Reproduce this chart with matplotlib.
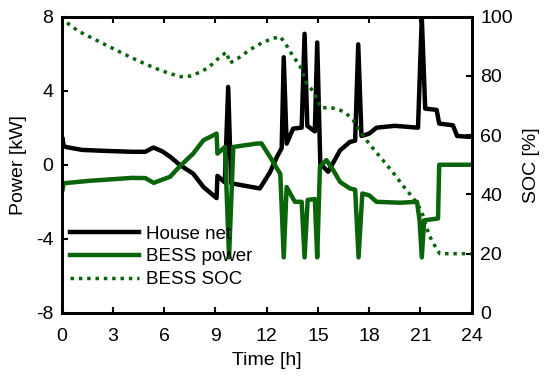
import numpy as np
import matplotlib

matplotlib.use('Agg')

import matplotlib.pyplot as plt

plt.rcParams['font.family'] = ['Liberation Sans', 'DejaVu Sans']
plt.rcParams['axes.unicode_minus'] = False

# house net power [kW]
t_house = [0, 0.05, 0.12, 0.3, 1.2, 2.5, 4.1, 4.9, 5.37, 5.9, 6.4, 6.9, 7.7, 8.3,
           9.07, 9.12, 9.55, 9.75, 9.92, 11.6, 12.2, 12.6, 12.88, 13.0, 13.17, 13.55,
           14.05, 14.22, 14.38, 14.82, 14.96, 15.14, 15.6, 16.3, 16.87, 17.18, 17.36,
           17.55, 18.0, 18.43, 19.5, 20.86, 21.08, 21.28, 21.95, 22.1, 22.9, 23.15, 24]
p_house = [1.0, 1.45, 1.0, 0.95, 0.8, 0.75, 0.7, 0.7, 0.93, 0.72, 0.4, 0.0, -0.48, -1.2,
           -1.8, -0.6, -0.95, 4.2, -1.0, -1.28, -0.4, 0.42, 0.9, 5.8, 1.14, 1.95,
           2.0, 7.07, 2.1, 1.8, 6.6, 0.06, -0.38, 0.78, 1.23, 1.3, 6.5,
           1.55, 1.68, 2.0, 2.1, 2.0, 7.96, 3.03, 2.96, 2.22, 2.13, 1.55, 1.5]

# battery power [kW]
t_bess = [0, 0.05, 0.12, 1.6, 4.1, 4.9, 5.4, 5.9, 6.35, 6.9, 7.7, 8.3, 9.07, 9.12,
          9.56, 9.8, 10.05, 11.4, 11.7, 12.2, 12.8, 13.0, 13.17, 13.65, 14.05, 14.22,
          14.4, 14.82, 14.96, 15.12, 15.5, 15.9, 16.3, 16.87, 17.18, 17.38, 17.6, 18.0,
          18.43, 19.8, 20.8, 20.95, 21.08, 21.22, 22.03, 22.1, 24]
p_bess = [-1.4, -1.4, -1.0, -0.87, -0.71, -0.72, -0.98, -0.8, -0.65, -0.1, 0.6, 1.32, 1.68, 0.6,
          0.96, -5.0, 0.96, 1.14, 1.15, 0.42, -0.5, -5.0, -1.2, -2.0, -2.0, -5.0,
          -1.9, -1.85, -5.0, -0.1, 0.25, -0.3, -0.93, -1.28, -1.35, -5.0, -1.55, -1.65,
          -2.0, -2.05, -2.0, -3.0, -5.0, -3.0, -2.9, 0.0, 0.0]

# battery state of charge [%]
t_soc = [0, 0.4, 1.0, 1.9, 2.8, 3.6, 4.5, 5.5, 6.3, 7.0, 7.5, 8.1, 8.6, 9.2, 9.65, 9.85,
         10.3, 10.83, 11.3, 11.8, 12.3, 12.8, 13.17, 13.5, 13.95, 14.35, 14.73, 14.95,
         15.2, 15.7, 16.3, 16.6, 17.05, 17.45, 18.0, 18.5, 19.0, 19.5, 20.0, 20.6, 21.06,
         21.35, 21.55, 21.85, 22.13, 24]
soc = [100, 97.5, 95.0, 92.4, 89.8, 87.5, 85.0, 82.5, 80.8, 79.7, 79.9, 81.2, 82.8, 86.0, 88.0, 84.3,
       85.8, 88.0, 89.8, 91.3, 92.5, 93.2, 90.2, 87.0, 83.3, 77.3, 74.8, 72.0,
       69.1, 69.4, 68.4, 67.6, 65.2, 61.3, 57.1, 53.6, 50.2, 46.6, 42.8, 38.6, 34.5,
       29.0, 25.8, 22.6, 20.0, 20.0]

green = '#0a640a'

fig = plt.figure(figsize=(5.5, 3.76), dpi=100)
ax = fig.add_axes([0.112, 0.1676, 0.7456, 0.7885])
ax2 = ax.twinx()

l1, = ax.plot(t_house, p_house, color='black', lw=3.2, solid_joinstyle='round')
l2, = ax.plot(t_bess, p_bess, color=green, lw=3.2, solid_joinstyle='round')
l3, = ax2.plot(t_soc, soc, color=green, lw=2.5, linestyle=(0, (1, 1.4)), dash_capstyle='butt')

ax.set_xlim(0, 24)
ax.set_ylim(-8, 8)
ax.set_xticks(np.arange(0, 25, 3))
ax.set_yticks([-8, -4, 0, 4, 8])
ax2.set_ylim(0, 100)
ax2.set_yticks(np.arange(0, 101, 20))

ax.tick_params(axis='x', direction='in', length=4, width=1.5, top=True, labelsize=14, pad=11)
ax.tick_params(axis='y', direction='in', length=4, width=1.5, right=False, labelsize=14, pad=6)
ax2.tick_params(axis='y', direction='in', length=4, width=1.5, labelsize=14, pad=6)
for a in (ax, ax2):
    for s in a.spines.values():
        s.set_linewidth(2)

ax.set_xlabel('Time [h]', fontsize=14)
ax.set_ylabel('Power [kW]', fontsize=14)
ax2.set_ylabel('SOC [%]', fontsize=14)
ax.xaxis.set_label_coords(0.5, -0.13)
ax.yaxis.set_label_coords(-0.084, 0.5)
ax2.yaxis.set_label_coords(1.125, 0.5)

ax2.legend([l1, l2, l3], ['House net', 'BESS power', 'BESS SOC'], loc='upper left',
           bbox_to_anchor=(0.02, 0.295), frameon=False, fontsize=13.5, borderpad=0,
           borderaxespad=0, labelspacing=0.3, handlelength=3.7, handletextpad=0.35)

fig.savefig('out.png', dpi=100)
